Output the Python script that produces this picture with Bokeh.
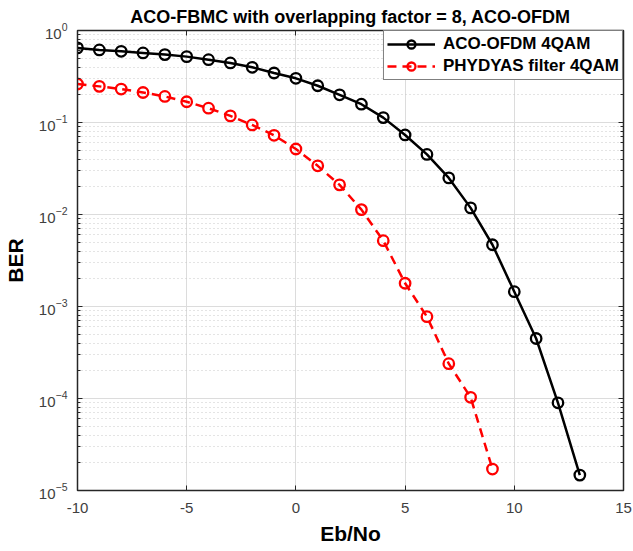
from bokeh.plotting import figure
from bokeh.models import (LogAxis, LinearAxis, FixedTicker, LogTickFormatter, Range1d,
                          Legend, LegendItem)
from bokeh.embed import file_html
from bokeh.resources import INLINE

ebno_ofdm = [-10, -9, -8, -7, -6, -5, -4, -3, -2, -1, 0, 1, 2, 3, 4, 5, 6, 7, 8, 9, 10, 11, 12, 13]
ber_ofdm = [0.647, 0.615, 0.594, 0.57, 0.547, 0.52, 0.482, 0.444, 0.398, 0.345, 0.302, 0.251,
            0.2, 0.158, 0.113, 0.0732, 0.045, 0.025, 0.0118, 0.00469, 0.00145, 0.000449,
            8.97e-5, 1.47e-5]
ebno_fbmc = [-10, -9, -8, -7, -6, -5, -4, -3, -2, -1, 0, 1, 2, 3, 4, 5, 6, 7, 8, 9]
ber_fbmc = [0.262, 0.247, 0.231, 0.212, 0.192, 0.168, 0.143, 0.118, 0.094, 0.0726, 0.0515,
            0.0338, 0.021, 0.0113, 0.00519, 0.00179, 0.000775, 0.000239, 0.000103, 1.71e-5]

x_ticks = [-10, -5, 0, 5, 10, 15]
x_tick_labels = ["-10", "-5", "0", "5", "10", "15"]
y_ticks = [1e-5, 1e-4, 1e-3, 1e-2, 1e-1, 1e0]
y_minor = [m * 10.0 ** e for e in range(-5, 0) for m in range(2, 10)]

FONT = "Liberation Sans"
AX = "#262626"
LBL = "#404040"

p = figure(width=633, height=551, output_backend="svg", toolbar_location=None,
           y_axis_type="log", x_range=Range1d(-10, 15), y_range=Range1d(1e-5, 1),
           min_border_left=73, min_border_right=10, min_border_top=30, min_border_bottom=61)

p.title.text = "ACO-FBMC with overlapping factor = 8, ACO-OFDM"
p.title.text_font = FONT
p.title.text_font_size = "18px"
p.title.text_font_style = "bold"
p.title.align = "center"
p.title.vertical_align = "top"
p.title.text_color = "#000000"
p.title.standoff = 4
p.title.offset = 0

yt = FixedTicker(ticks=y_ticks, minor_ticks=y_minor)
xt = FixedTicker(ticks=x_ticks)

p.xaxis.ticker = xt
p.xaxis.major_label_overrides = dict(zip(x_ticks, x_tick_labels))
p.yaxis.ticker = yt
p.yaxis.formatter = LogTickFormatter()
for ax in (p.xaxis[0], p.yaxis[0]):
    ax.major_tick_in = 5
    ax.major_tick_out = 0
    ax.minor_tick_in = 3
    ax.minor_tick_out = 0
    ax.axis_line_color = AX
    ax.major_tick_line_color = AX
    ax.minor_tick_line_color = AX
    ax.major_label_text_font = FONT
    ax.major_label_text_font_size = "15px"
    ax.major_label_text_color = LBL
    ax.axis_label_text_font = FONT
    ax.axis_label_text_font_size = "21px"
    ax.axis_label_text_font_style = "bold"
    ax.axis_label_text_color = "#000000"
p.xaxis.minor_tick_line_color = None
p.xaxis.axis_label = "Eb/No"
p.yaxis.axis_label = "BER"
p.xaxis.major_label_standoff = 12
p.xaxis.axis_label_standoff = 6
p.yaxis.major_label_standoff = 10
p.yaxis.axis_label_standoff = 9

# box axes (top/right) with inward ticks, invisible labels
top = LinearAxis(ticker=xt, major_label_text_font_size="1px", major_label_text_alpha=0,
                 major_tick_in=5, major_tick_out=0,
                 minor_tick_line_color=None, axis_line_color=AX, major_tick_line_color=AX,
                 major_label_standoff=0, axis_label_standoff=0)
right = LogAxis(ticker=yt, major_label_text_font_size="1px", major_label_text_alpha=0,
                major_tick_in=5, major_tick_out=0,
                minor_tick_in=3, minor_tick_out=0, axis_line_color=AX,
                major_tick_line_color=AX, minor_tick_line_color=AX, major_label_standoff=0,
                axis_label_standoff=0)
p.add_layout(top, "above")
p.add_layout(right, "right")

p.xgrid.grid_line_color = "#dcdcdc"
p.ygrid.grid_line_color = "#dcdcdc"
p.xgrid.grid_line_width = 1
p.ygrid.minor_grid_line_color = "#c8c8c8"
p.ygrid.minor_grid_line_dash = "1 3"
p.ygrid.minor_grid_line_width = 1
p.outline_line_color = AX
p.outline_line_width = 1.5

l1 = p.line(ebno_ofdm, ber_ofdm, line_color="black", line_width=2.5)
c1 = p.scatter(ebno_ofdm, ber_ofdm, marker="circle", size=10.5, line_color="black",
               line_width=2.3, fill_color=None)
l2 = p.line(ebno_fbmc, ber_fbmc, line_color="#ff0000", line_width=2.5, line_dash="9 6")
c2 = p.scatter(ebno_fbmc, ber_fbmc, marker="circle", size=10.5, line_color="#ff0000",
               line_width=2.3, fill_color=None)

legend = Legend(items=[LegendItem(label="ACO-OFDM 4QAM", renderers=[l1, c1]),
                       LegendItem(label="PHYDYAS filter 4QAM", renderers=[l2, c2])],
                location="top_right", label_text_font=FONT, label_text_font_size="17px",
                label_text_font_style="bold", label_text_color="#000000",
                border_line_color="#000000", border_line_width=1,
                background_fill_alpha=1.0, glyph_width=48, glyph_height=20,
                label_height=20, spacing=2, padding=3, margin=0, label_standoff=8)
p.add_layout(legend, "center")

open("out.html", "w").write(file_html(p, INLINE))
